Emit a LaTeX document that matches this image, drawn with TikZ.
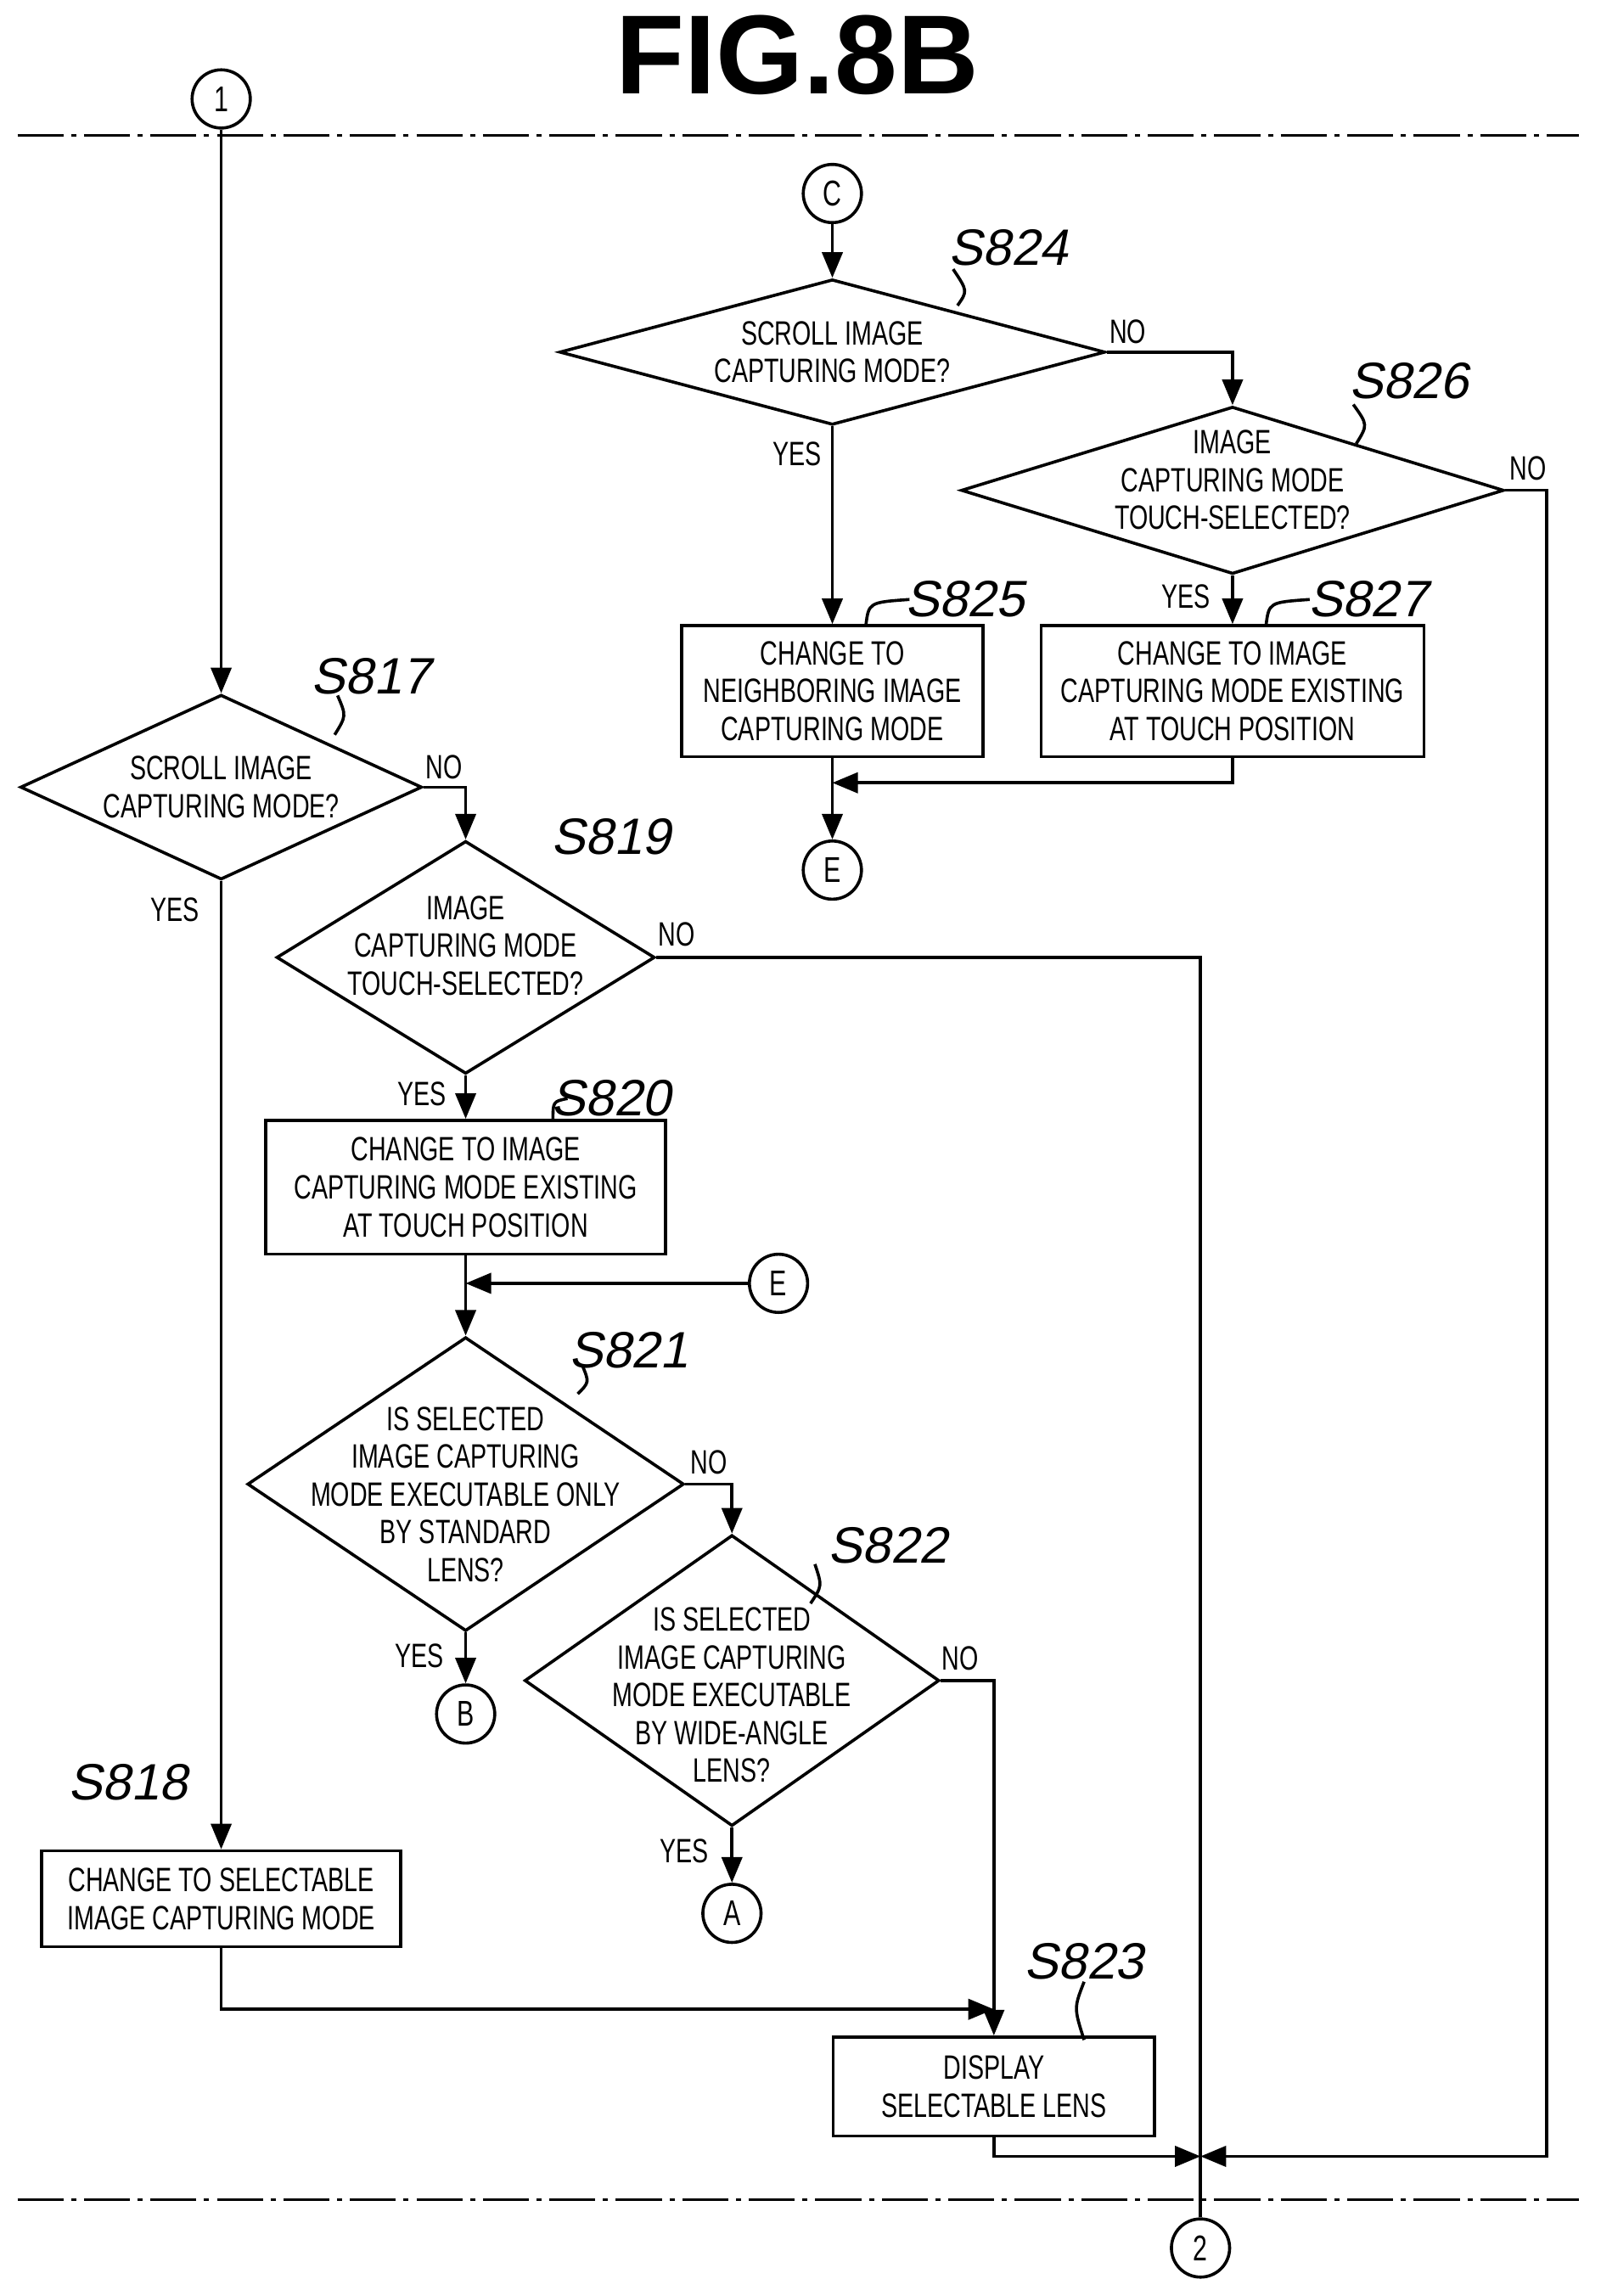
\documentclass[tikz,border=0pt]{standalone}
\usepackage{fontspec}
\setmainfont{Liberation Sans}
\setsansfont{Liberation Sans}[FakeStretch=0.72]
\newfontfamily\stepfont{Liberation Sans}[FakeSlant=0.2]
\usetikzlibrary{shapes.geometric,arrows.meta}

\tikzset{
  flow/.style={draw, line width=0.6pt, font=\sffamily\fontsize{6.6}{7.4}\selectfont, align=center},
  box/.style={flow, rectangle, inner sep=0pt},
  test/.style={draw, line width=0.6pt, diamond, inner sep=0pt},
  txt/.style={font=\sffamily\fontsize{6.6}{7.4}\selectfont, align=center},
  conn/.style={draw, circle, line width=0.6pt, minimum size=0.4cm, inner sep=0pt, font=\sffamily\fontsize{7}{8}\selectfont},
  lbl/.style={font=\stepfont\fontsize{10}{11}\selectfont},
  yn/.style={font=\sffamily\fontsize{6.6}{7.4}\selectfont},
  line/.style={line width=0.6pt},
  arr/.style={line width=0.6pt, -{Triangle[length=5pt,width=4pt]}},
  sep/.style={line width=0.5pt, dash pattern=on 9pt off 1.5pt on 1pt off 1.5pt}
}

\begin{document}
\begin{tikzpicture}[x=0.1mm,y=-0.1mm]
  \useasboundingbox (0,0) rectangle (1100,1578);
  %%%TITLE%%%
  \node[font=\bfseries\fontsize{22}{24}\selectfont] at (548,38) {FIG.8B};
  \draw[sep] (12,93) -- (1085,93);
  \draw[sep] (12,1512) -- (1085,1512);

  %%%LEFT COLUMN%%%
  \node[conn] (c1) at (152,68) {1};
  \node[test, minimum width=2.76cm, minimum height=1.27cm] (s817) at (152,541) {};
  \node[txt] at (s817) {SCROLL IMAGE\\CAPTURING MODE?};
  \node[test, minimum width=2.6cm, minimum height=1.6cm] (s819) at (320,658) {};
  \node[txt] at (320,650) {IMAGE\\CAPTURING MODE\\TOUCH-SELECTED?};
  \node[box, minimum width=2.75cm, minimum height=0.92cm] (s820) at (320,816) {CHANGE TO IMAGE\\CAPTURING MODE EXISTING\\AT TOUCH POSITION};
  \node[conn] (e2) at (535,882) {E};
  \coordinate (m820) at (320,882);
  \node[test, minimum width=3cm, minimum height=2.02cm] (s821) at (320,1020) {};
  \node[txt] at (320,1027) {IS SELECTED\\IMAGE CAPTURING\\MODE EXECUTABLE ONLY\\BY STANDARD\\LENS?};
  \node[conn] (cb) at (320,1178) {B};
  \node[test, minimum width=2.85cm, minimum height=2cm] (s822) at (503,1155) {};
  \node[txt] at (503,1165) {IS SELECTED\\IMAGE CAPTURING\\MODE EXECUTABLE\\BY WIDE-ANGLE\\LENS?};
  \node[conn] (ca) at (503,1315) {A};
  \node[box, minimum width=2.47cm, minimum height=0.66cm] (s818) at (152,1305) {CHANGE TO SELECTABLE\\IMAGE CAPTURING MODE};
  \node[box, minimum width=2.21cm, minimum height=0.68cm] (s823) at (683,1434) {DISPLAY\\SELECTABLE LENS};
  \node[conn] (c2) at (825,1545) {2};
  \coordinate (m2) at (825,1482);

  %%%RIGHT COLUMN%%%
  \node[conn] (cc) at (572,133) {C};
  \node[test, minimum width=3.75cm, minimum height=1cm] (s824) at (572,242) {};
  \node[txt] at (s824) {SCROLL IMAGE\\CAPTURING MODE?};
  \node[test, minimum width=3.73cm, minimum height=1.15cm] (s826) at (847,337) {};
  \node[txt] at (847,330) {IMAGE\\CAPTURING MODE\\TOUCH-SELECTED?};
  \node[box, minimum width=2.07cm, minimum height=0.9cm] (s825) at (572,475) {CHANGE TO\\NEIGHBORING IMAGE\\CAPTURING MODE};
  \node[box, minimum width=2.63cm, minimum height=0.9cm] (s827) at (847,475) {CHANGE TO IMAGE\\CAPTURING MODE EXISTING\\AT TOUCH POSITION};
  \node[conn] (e1) at (572,598) {E};

  %labels
  \node[lbl] at (255,465) {S817};
  \node[lbl] at (420,575) {S819};
  \node[lbl] at (420,755) {S820};
  \node[lbl] at (432,928) {S821};
  \node[lbl] at (610,1062) {S822};
  \node[lbl] at (88,1225) {S818};
  \node[lbl] at (745,1348) {S823};
  \node[lbl] at (693,170) {S824};
  \node[lbl] at (968,262) {S826};
  \node[lbl] at (663,412) {S825};
  \node[lbl] at (940,412) {S827};
  \draw[line] (232,478) .. controls (238,492) .. (230,505);
  \draw[line] (380,770) .. controls (380,757) .. (390,755);
  \draw[line] (400,938) .. controls (405,950) .. (397,958);
  \draw[line] (560,1075) .. controls (565,1090) .. (557,1102);
  \draw[line] (745,1362) .. controls (738,1380) .. (745,1402);
  \draw[line] (655,185) .. controls (665,200) .. (658,210);
  \draw[line] (930,278) .. controls (940,292) .. (932,305);
  \draw[line] (595,430) .. controls (597,414) .. (625,412);
  \draw[line] (870,430) .. controls (872,414) .. (900,412);

  %yes/no
  \node[yn] at (305,527) {NO};
  \node[yn] at (120,625) {YES};
  \node[yn] at (465,642) {NO};
  \node[yn] at (290,752) {YES};
  \node[yn] at (487,1005) {NO};
  \node[yn] at (288,1138) {YES};
  \node[yn] at (660,1140) {NO};
  \node[yn] at (470,1272) {YES};
  \node[yn] at (775,228) {NO};
  \node[yn] at (548,312) {YES};
  \node[yn] at (1050,322) {NO};
  \node[yn] at (815,410) {YES};

  %%%CONNECTORS%%%
  \draw[arr] (c1) -- (s817);
  \draw[arr] (s817.east) -| (s819.north);
  \draw[arr] (s817.south) -- (s818.north);
  \draw[line] (s819.east) -| (c2.north);
  \draw[arr] (s819.south) -- (s820.north);
  \draw[arr] (s820.south) -- (s821.north);
  \draw[arr] (e2) -- (m820);
  \draw[arr] (s821.east) -| (s822.north);
  \draw[arr] (s821.south) -- (cb);
  \draw[arr] (s822.east) -| (s823.north);
  \draw[arr] (s822.south) -- (ca);
  \draw[arr] (s818.south) |- ([yshift=0.18cm]s823.north);
  \draw[arr] (s823.south) |- (m2);
  \draw[arr] (cc) -- (s824);
  \draw[arr] (s824.east) -| (s826.north);
  \draw[arr] (s824.south) -- (s825.north);
  \draw[arr] (s826.south) -- (s827.north);
  \draw[arr] (s826.east) -| (1063,1482) -- (m2);
  \draw[arr] (s825.south) -- (e1);
  \draw[arr] (s827.south) |- (572,538);
\end{tikzpicture}
\end{document}
